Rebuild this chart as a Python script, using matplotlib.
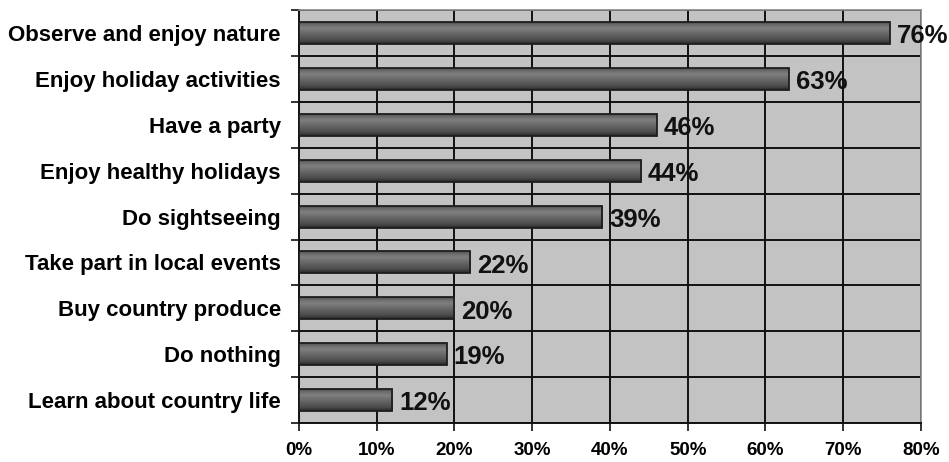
import matplotlib.pyplot as plt
import numpy as np
from matplotlib.colors import LinearSegmentedColormap

# Activities and share of respondents (%)
activities = ['Observe and enjoy nature', 'Enjoy holiday activities', 'Have a party',
              'Enjoy healthy holidays', 'Do sightseeing', 'Take part in local events',
              'Buy country produce', 'Do nothing', 'Learn about country life']
shares = [76, 63, 46, 44, 39, 22, 20, 19, 12]
xticks = [0, 10, 20, 30, 40, 50, 60, 70, 80]

plt.rcParams['font.family'] = ['Liberation Sans', 'DejaVu Sans']
plt.rcParams['font.weight'] = 'bold'

fig = plt.figure(figsize=(9.49, 4.62), dpi=100)
ax = fig.add_axes([0.315, 0.0844, 0.6555, 0.8936])
ax.set_facecolor('#c3c3c3')

pos = np.arange(len(activities))
bars = ax.barh(pos, shares, height=0.48, color='none', edgecolor='#1e1e1e',
               linewidth=1.3, zorder=4)

# Cylinder-like shading for each bar
shade = LinearSegmentedColormap.from_list(
    'shade', [(0.0, '#262626'), (0.15, '#4a4a4a'), (0.45, '#676767'),
              (0.7, '#808080'), (0.88, '#656565'), (1.0, '#363636')])
grad = np.linspace(0, 1, 64).reshape(-1, 1)
for b in bars:
    x0, y0 = b.get_x(), b.get_y()
    w, h = b.get_width(), b.get_height()
    im = ax.imshow(grad, cmap=shade, aspect='auto', zorder=3,
                   extent=(x0, x0 + w, y0, y0 + h), origin='upper',
                   interpolation='bilinear')
    im.set_clip_path(b)

for p, v in zip(pos, shares):
    ax.text(v + 0.9, p + 0.07, f'{v}%', ha='left', va='center',
            fontsize=18.5, fontweight='bold', color='#111111', zorder=6)

ax.set_xlim(0, 80)
ax.set_ylim(len(activities) - 0.5, -0.5)
ax.set_xticks(xticks)
ax.set_xticklabels([f'{t}%' for t in xticks], fontsize=13.5, fontweight='bold')
ax.set_yticks(pos)
ax.set_yticklabels(activities, fontsize=16, fontweight='bold')
ax.set_yticks(np.arange(len(activities) + 1) - 0.5, minor=True)

ax.tick_params(axis='y', which='major', length=0, pad=13)
ax.tick_params(axis='y', which='minor', length=6, width=1.2, color='#111111')
ax.tick_params(axis='x', which='major', length=6, width=1.2, color='#111111', pad=8)

ax.grid(axis='x', which='major', color='#111111', linewidth=1.4, zorder=1)
ax.grid(axis='y', which='minor', color='#111111', linewidth=1.4, zorder=1)
ax.set_axisbelow(True)

for side in ('left', 'bottom'):
    ax.spines[side].set_color('#111111')
    ax.spines[side].set_linewidth(1.4)
for side in ('top', 'right'):
    ax.spines[side].set_color('#8a8a8a')
    ax.spines[side].set_linewidth(1.2)

fig.savefig('out.png', dpi=100)
